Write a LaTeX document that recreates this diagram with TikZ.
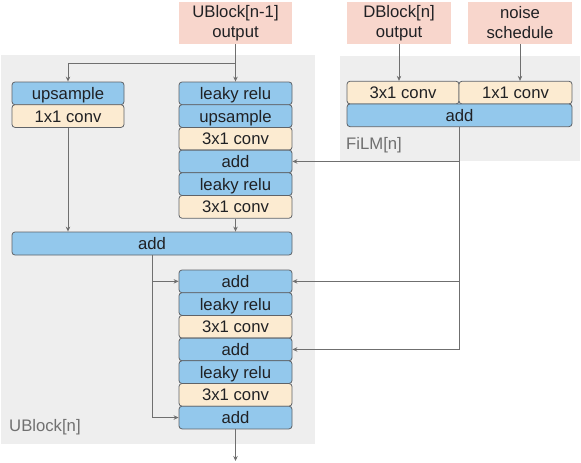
\documentclass[tikz,border=0pt]{standalone}
\usepackage{fontspec}
\setmainfont{Liberation Sans}
\usetikzlibrary{arrows.meta}
\definecolor{bl}{HTML}{93C8EC}
\definecolor{pc}{HTML}{FCEBD1}
\definecolor{pk}{HTML}{F8D6CC}
\definecolor{pan}{HTML}{EEEEEE}
\definecolor{edge}{HTML}{5F6368}
\definecolor{txt}{HTML}{202124}
\definecolor{lab}{HTML}{707070}
\definecolor{arrc}{HTML}{6F6F6F}
\begin{document}
\begin{tikzpicture}[x=1pt,y=-1pt,
  every node/.style={font=\fontsize{16.7}{20}\selectfont, text=txt, inner sep=0pt},
  blk/.style={draw=edge, line width=0.8pt, rounded corners=3pt, minimum height=22.7pt, minimum width=113pt, text height=12pt, text depth=0pt},
  bluebox/.style={blk, fill=bl},
  convbox/.style={blk, fill=pc},
  inbox/.style={fill=pk, align=center, minimum height=42pt},
  arr/.style={draw=arrc, line width=0.9pt, -{Stealth[length=5pt,width=4.5pt]}},
  ln/.style={draw=arrc, line width=0.9pt},
  lbl/.style={text=lab, anchor=west}
]
\useasboundingbox (0,0) rectangle (581,463);
% panels
\fill[pan] (1,55) rectangle (315,444);
\fill[pan] (340,55.7) rectangle (580,161);
% inputs
\node[inbox, minimum width=113pt] (u) at (235.5,23) {UBlock[n-1]\\output};
\node[inbox, minimum width=104pt] (d) at (399,23) {DBlock[n]\\output};
\node[inbox, minimum width=104pt] (ns) at (520,23) {noise\\schedule};
% left column
\node[bluebox, minimum width=112pt] (ups) at (68,93.35) {upsample};
\node[convbox, minimum width=112pt] (c11) at (68,116.05) {1x1 conv};
% right column
\node[bluebox] (lr1) at (235.5,93.35) {leaky relu};
\node[bluebox] (up2) at (235.5,116.05) {upsample};
\node[convbox] (c31a) at (235.5,138.75) {3x1 conv};
\node[bluebox] (a1) at (235.5,161.45) {add};
\node[bluebox] (lr2) at (235.5,184.15) {leaky relu};
\node[convbox] (c31b) at (235.5,206.85) {3x1 conv};
% big add
\node[bluebox, minimum width=280pt, minimum height=23pt] (ab) at (152,243.5) {add};
% lower column
\node[bluebox] (l1) at (235.5,281.35) {add};
\node[bluebox] (l2) at (235.5,304.05) {leaky relu};
\node[convbox] (l3) at (235.5,326.75) {3x1 conv};
\node[bluebox] (l4) at (235.5,349.45) {add};
\node[bluebox] (l5) at (235.5,372.15) {leaky relu};
\node[convbox] (l6) at (235.5,394.85) {3x1 conv};
\node[bluebox] (l7) at (235.5,417.55) {add};
% FiLM
\node[convbox, minimum width=112pt] (f3) at (403,92.6) {3x1 conv};
\node[convbox] (f1) at (515.5,92.6) {1x1 conv};
\node[bluebox, minimum width=225pt] (fa) at (459.5,115.3) {add};
% labels
\node[lbl] (lu) at (9,427) {UBlock[n]};
\node[lbl] (lf) at (346,145) {FiLM[n]};
% connectors
\coordinate (b1) at (235.5,63);
\draw[arr] (u.south) -- (lr1.north);
\draw[arr] (b1) -| (ups.north);
\draw[arr] (c11.south) -- (c11.south |- ab.north);
\draw[arr] (c31b.south) -- (c31b.south |- ab.north);
\draw[arr] (d.south) -- (d.south |- f3.north);
\draw[arr] (ns.south) -- (ns.south |- f1.north);
\draw[arr] (ab.south) |- (l7.west);
\draw[arr] (ab.south |- l1.west) -- (l1.west);
\draw[ln] (fa.south) -- (fa.south |- l4.east);
\draw[arr] (fa.south |- a1.east) -- (a1.east);
\draw[arr] (fa.south |- l1.east) -- (l1.east);
\draw[arr] (fa.south |- l4.east) -- (l4.east);
\coordinate (out) at (235.5,461);
\draw[arr] (l7.south) -- (out);
\end{tikzpicture}
\end{document}
